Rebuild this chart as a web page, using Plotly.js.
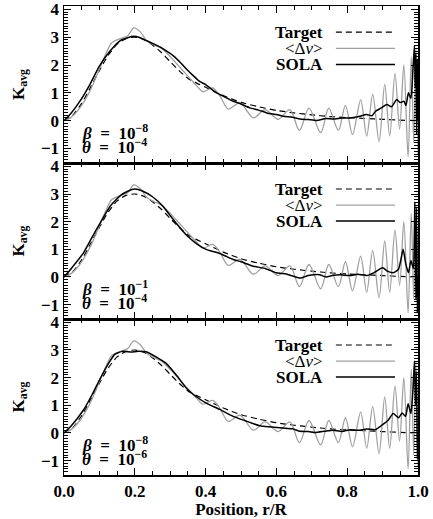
<!DOCTYPE html>
<html>
<head>
<meta charset="utf-8">
<script src="https://cdn.plot.ly/plotly-3.0.1.min.js"></script>
<style>html,body{margin:0;padding:0;background:#fff;}#plot{width:433px;height:519px;}</style>
</head>
<body>
<div id="plot"></div>
<script>
// ---- Data ----
// Target kernel (shared by all panels)
const rTarget = [0, 0.025, 0.05, 0.075, 0.1, 0.125, 0.15, 0.175, 0.2, 0.225, 0.25, 0.275, 0.3, 0.325, 0.35, 0.375, 0.4, 0.45, 0.5, 0.55, 0.6, 0.65, 0.7, 0.75, 0.8, 0.85, 0.9, 0.95, 1.0];
const kTarget = [0, 0.2, 0.62, 1.2, 1.8, 2.35, 2.75, 2.95, 3.0, 2.92, 2.72, 2.45, 2.12, 1.8, 1.52, 1.35, 1.2, 0.9, 0.66, 0.5, 0.37, 0.28, 0.21, 0.15, 0.11, 0.08, 0.05, 0.02, 0.0];

// <Δν> averaging kernel (same in all panels)
const rAvg = [0, 0.02, 0.045, 0.073, 0.10, 0.12, 0.135, 0.16, 0.18, 0.197, 0.215, 0.234, 0.255, 0.275, 0.30, 0.325, 0.35, 0.375, 0.393, 0.42, 0.44, 0.464, 0.497, 0.535, 0.568, 0.605, 0.638, 0.665, 0.692, 0.725, 0.748, 0.775, 0.795, 0.815, 0.838, 0.855, 0.872, 0.89, 0.906, 0.92, 0.935, 0.948, 0.96, 0.972, 0.981, 0.988, 0.994, 1.0];
const kAvg = [0, 0.12, 0.46, 1.06, 1.85, 2.45, 2.8, 2.95, 3.05, 3.33, 3.2, 2.87, 2.72, 2.6, 2.3, 1.95, 1.6, 1.25, 1.04, 1.18, 0.9, 0.42, 0.64, 0.1, 0.4, 0.05, 0.4, -0.35, 0.45, -0.43, 0.45, -0.35, 0.55, -0.5, 0.75, -0.55, 0.95, -0.75, 1.3, -0.55, 1.7, -0.3, 2.0, -1.3, 2.3, -0.8, 2.6, -1.2];

// SOLA kernels, one per panel
const rSola1 = [0, 0.017, 0.045, 0.073, 0.1, 0.13, 0.158, 0.18, 0.196, 0.215, 0.234, 0.255, 0.271, 0.29, 0.309, 0.328, 0.347, 0.365, 0.384, 0.4, 0.415, 0.431, 0.45, 0.478, 0.5, 0.525, 0.55, 0.573, 0.6, 0.62, 0.645, 0.667, 0.69, 0.714, 0.74, 0.761, 0.785, 0.808, 0.83, 0.855, 0.87, 0.88, 0.895, 0.912, 0.925, 0.94, 0.95, 0.96, 0.966, 0.973, 0.98, 0.986, 0.99, 0.992, 0.994, 0.996, 0.998, 1.0];
const kSola1 = [0, 0.22, 0.7, 1.3, 1.96, 2.5, 2.87, 2.98, 3.03, 2.98, 2.87, 2.75, 2.65, 2.5, 2.33, 2.1, 1.84, 1.62, 1.4, 1.3, 1.15, 1.0, 0.88, 0.7, 0.6, 0.46, 0.38, 0.28, 0.22, 0.16, 0.12, 0.06, 0.04, 0.01, 0.08, 0.06, 0.1, 0.1, 0.14, 0.22, 0.18, 0.34, 0.45, 0.58, 0.5, 0.76, 0.65, 0.7, 0.55, 1.0, 0.8, 1.9, 2.7, 1.2, 2.4, -0.5, 2.2, 0.0];

const rSola2 = [0, 0.02, 0.055, 0.08, 0.102, 0.13, 0.16, 0.18, 0.2, 0.22, 0.25, 0.28, 0.309, 0.347, 0.375, 0.403, 0.44, 0.478, 0.5, 0.535, 0.57, 0.6, 0.63, 0.667, 0.69, 0.722, 0.74, 0.76, 0.78, 0.808, 0.83, 0.855, 0.875, 0.9, 0.915, 0.93, 0.945, 0.958, 0.965, 0.973, 0.98, 0.987, 0.991, 0.994, 0.996, 0.998, 1.0];
const kSola2 = [0, 0.3, 0.87, 1.45, 1.95, 2.55, 2.95, 3.1, 3.18, 3.12, 2.9, 2.55, 2.07, 1.5, 1.2, 0.99, 0.85, 0.63, 0.55, 0.39, 0.3, 0.15, 0.1, -0.04, 0.05, 0.08, 0.0, 0.06, 0.08, 0.05, 0.1, 0.05, 0.15, 0.33, 0.2, 0.15, 0.28, 1.0, 0.5, 0.15, 0.6, 0.3, 2.7, -0.8, 2.5, -1.3, 0.0];

const rSola3 = [0, 0.02, 0.055, 0.08, 0.102, 0.125, 0.144, 0.165, 0.19, 0.21, 0.234, 0.26, 0.29, 0.32, 0.347, 0.375, 0.403, 0.44, 0.478, 0.51, 0.553, 0.585, 0.618, 0.645, 0.667, 0.69, 0.71, 0.735, 0.76, 0.785, 0.808, 0.83, 0.855, 0.88, 0.9, 0.915, 0.93, 0.945, 0.955, 0.965, 0.972, 0.98, 0.986, 0.99, 0.993, 0.996, 0.998, 1.0];
const kSola3 = [0, 0.25, 0.83, 1.4, 1.96, 2.5, 2.85, 2.95, 2.93, 2.95, 2.93, 2.75, 2.5, 2.05, 1.6, 1.3, 1.07, 0.85, 0.6, 0.45, 0.26, 0.22, 0.18, 0.15, 0.06, 0.05, 0.02, 0.06, 0.1, 0.05, 0.12, 0.1, 0.14, 0.12, 0.3, 0.45, 0.7, 0.55, 0.72, 0.6, 1.06, 0.7, 1.6, 2.6, 1.0, 2.2, -0.95, 0.0];

// Panel parameter labels
const betaLabels = ["10<sup>−8</sup>", "10<sup>−1</sup>", "10<sup>−8</sup>"];
const thetaLabels = ["10<sup>−4</sup>", "10<sup>−4</sup>", "10<sup>−6</sup>"];
const legendNames = ["Target", "&lt;Δ<i>ν</i>&gt;", "SOLA"];
const xTickVals = [0, 0.2, 0.4, 0.6, 0.8, 1.0];
const yTickVals = [-1, 0, 1, 2, 3, 4];

// ---- Build figure ----
const FONT = 'Liberation Serif, serif';
const FS = 17;
const GRAY = '#a0a0a0';
const SP = '\u00a0\u00a0';
const solaR = [rSola1, rSola2, rSola3];
const solaK = [kSola1, kSola2, kSola3];
const traces = [];
const suffix = ['', '2', '3'];
for (let p = 0; p < 3; p++) {
  const xa = 'x' + suffix[p], ya = 'y' + suffix[p];
  traces.push({x: rTarget, y: kTarget, xaxis: xa, yaxis: ya, mode: 'lines', type: 'scatter',
    line: {color: '#000', width: 1.2, dash: '6px,4px', shape: 'spline', smoothing: 0.6}, hoverinfo: 'skip'});
  traces.push({x: rAvg, y: kAvg, xaxis: xa, yaxis: ya, mode: 'lines', type: 'scatter',
    line: {color: GRAY, width: 1.3, shape: 'spline', smoothing: 0.9}, hoverinfo: 'skip'});
  traces.push({x: solaR[p], y: solaK[p], xaxis: xa, yaxis: ya, mode: 'lines', type: 'scatter',
    line: {color: '#000', width: 1.5, shape: 'spline', smoothing: 0.5}, hoverinfo: 'skip'});
}

const domains = [[0.6652, 1], [0.3326, 0.6652], [0, 0.3326]];
const layout = {
  width: 433, height: 519,
  margin: {l: 64, r: 15, t: 6, b: 44},
  paper_bgcolor: '#fff', plot_bgcolor: '#fff',
  showlegend: false,
  font: {family: FONT, color: '#000', size: FS, weight: 'bold'},
  annotations: [], shapes: []
};
for (let p = 0; p < 3; p++) {
  const xa = 'xaxis' + suffix[p], ya = 'yaxis' + suffix[p];
  const xr = 'x' + suffix[p], yr = 'y' + suffix[p];
  layout[xa] = {
    domain: [0, 1], anchor: yr, range: [0, 1],
    tickvals: xTickVals, tickformat: '.1f', showticklabels: p === 2,
    ticks: 'inside', ticklen: 7, tickwidth: 1, tickcolor: '#000',
    minor: {dtick: 0.05, tick0: 0, ticks: 'inside', ticklen: 4, tickwidth: 1, tickcolor: '#000'},
    showline: true, linecolor: '#000', linewidth: 1.5, mirror: 'allticks',
    showgrid: false, zeroline: false,
    tickfont: {family: FONT, size: FS, weight: 'bold'}
  };
  if (p === 2) {
    layout[xa].title = {text: 'Position, r/R', font: {family: FONT, size: FS, weight: 'bold'}, standoff: 12};
  }
  layout[ya] = {
    domain: domains[p], anchor: xr, range: [-1.52, 4.12],
    tickvals: yTickVals,
    ticks: 'inside', ticklen: 7, tickwidth: 1, tickcolor: '#000',
    minor: {dtick: 0.1, tick0: 0, ticks: 'inside', ticklen: 4, tickwidth: 1, tickcolor: '#000'},
    showline: true, linecolor: '#000', linewidth: 1.5, mirror: 'allticks',
    showgrid: false, zeroline: false,
    tickfont: {family: FONT, size: FS, weight: 'bold'},
    title: {text: 'K<sub>avg</sub>', font: {family: FONT, size: FS, weight: 'bold'}, standoff: 12}
  };
  // parameter labels
  layout.annotations.push({xref: xr, yref: yr, x: 0.045, y: -0.4, xanchor: 'left', yanchor: 'middle',
    text: '<i>β</i>' + SP + '=' + SP + betaLabels[p], showarrow: false, font: {family: FONT, size: FS, weight: 'bold'}});
  layout.annotations.push({xref: xr, yref: yr, x: 0.045, y: -0.92, xanchor: 'left', yanchor: 'middle',
    text: '<i>θ</i>' + SP + '=' + SP + thetaLabels[p], showarrow: false, font: {family: FONT, size: FS, weight: 'bold'}});
  // legend
  const legY = [3.18, 2.6, 2.02];
  const legStyles = [{color: '#000', width: 1.2, dash: '6px,4px'}, {color: GRAY, width: 1.3}, {color: '#000', width: 1.5}];
  for (let i = 0; i < 3; i++) {
    layout.annotations.push({xref: xr, yref: yr, x: 0.737, y: legY[i], xanchor: 'right', yanchor: 'middle',
      text: legendNames[i], showarrow: false, font: {family: FONT, size: FS, weight: i === 1 ? 'normal' : 'bold'}});
    layout.shapes.push({type: 'line', xref: xr, yref: yr, x0: 0.768, x1: 0.935, y0: legY[i], y1: legY[i], line: legStyles[i]});
  }
}
Plotly.newPlot('plot', traces, layout, {staticPlot: true, displayModeBar: false});
</script>
</body>
</html>
